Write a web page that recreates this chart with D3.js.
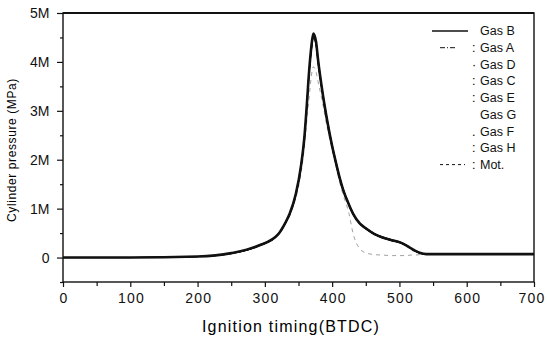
<!DOCTYPE html>
<html>
<head>
<meta charset="utf-8">
<script src="https://cdn.jsdelivr.net/npm/d3@7"></script>
<style>
  html, body { margin: 0; padding: 0; background: #fff; }
  svg { display: block; font-family: "Liberation Sans", Arial, sans-serif; }
</style>
</head>
<body>
<div id="chart"></div>
<script>
// crank angle grid shared by all curves
var angles = [0, 100, 200, 250, 290, 320, 330, 337, 346, 354, 359, 362, 366, 369, 372, 376, 379, 386, 392, 396, 400, 406, 411, 416, 425, 431, 441, 451, 463, 475, 490, 501, 510, 516, 523, 530, 540, 600, 700];

// cylinder pressure, MPa
var gasB = [0, 0, 0.02, 0.09, 0.24, 0.48, 0.7, 0.9, 1.3, 1.9, 2.5, 3.05, 3.85, 4.3, 4.58, 4.42, 4.05, 3.35, 2.85, 2.55, 2.28, 1.92, 1.64, 1.4, 1.08, 0.9, 0.7, 0.59, 0.48, 0.41, 0.35, 0.31, 0.25, 0.2, 0.14, 0.1, 0.07, 0.07, 0.07];
var gasA = [0, 0, 0.02, 0.09, 0.23, 0.47, 0.68, 0.88, 1.28, 1.87, 2.46, 3.0, 3.8, 4.23, 4.5, 4.36, 4.0, 3.32, 2.82, 2.52, 2.26, 1.9, 1.62, 1.39, 1.07, 0.89, 0.69, 0.58, 0.47, 0.4, 0.34, 0.3, 0.24, 0.19, 0.13, 0.09, 0.07, 0.07, 0.07];
var gasD = [0, 0, 0.02, 0.09, 0.24, 0.49, 0.71, 0.91, 1.32, 1.92, 2.52, 3.07, 3.87, 4.28, 4.55, 4.41, 4.06, 3.37, 2.87, 2.57, 2.3, 1.94, 1.66, 1.42, 1.09, 0.91, 0.71, 0.6, 0.49, 0.42, 0.36, 0.31, 0.25, 0.2, 0.14, 0.1, 0.07, 0.07, 0.07];
var gasC = [0, 0, 0.02, 0.08, 0.23, 0.47, 0.68, 0.88, 1.27, 1.86, 2.45, 2.99, 3.78, 4.21, 4.48, 4.34, 3.98, 3.31, 2.81, 2.51, 2.25, 1.89, 1.61, 1.38, 1.06, 0.88, 0.68, 0.57, 0.47, 0.4, 0.34, 0.3, 0.24, 0.19, 0.13, 0.09, 0.07, 0.07, 0.07];
var gasE = [0, 0, 0.02, 0.09, 0.25, 0.49, 0.71, 0.91, 1.31, 1.91, 2.51, 3.06, 3.86, 4.29, 4.56, 4.42, 4.07, 3.38, 2.88, 2.58, 2.31, 1.95, 1.66, 1.42, 1.1, 0.91, 0.71, 0.6, 0.49, 0.42, 0.36, 0.32, 0.26, 0.21, 0.14, 0.1, 0.07, 0.07, 0.07];
var gasG = [0, 0, 0.02, 0.09, 0.24, 0.48, 0.69, 0.89, 1.29, 1.88, 2.48, 3.02, 3.82, 4.25, 4.52, 4.38, 4.02, 3.33, 2.83, 2.53, 2.26, 1.9, 1.62, 1.39, 1.08, 0.9, 0.7, 0.59, 0.48, 0.41, 0.35, 0.31, 0.25, 0.2, 0.14, 0.1, 0.07, 0.07, 0.07];
var gasF = [0, 0, 0.02, 0.09, 0.24, 0.48, 0.7, 0.9, 1.3, 1.89, 2.49, 3.04, 3.84, 4.27, 4.54, 4.4, 4.04, 3.34, 2.84, 2.54, 2.27, 1.91, 1.63, 1.4, 1.09, 0.9, 0.7, 0.59, 0.48, 0.41, 0.35, 0.31, 0.25, 0.2, 0.14, 0.1, 0.07, 0.07, 0.07];
var gasH = [0, 0, 0.02, 0.08, 0.23, 0.47, 0.69, 0.89, 1.28, 1.88, 2.47, 3.01, 3.81, 4.24, 4.51, 4.37, 4.01, 3.33, 2.83, 2.53, 2.26, 1.9, 1.62, 1.39, 1.07, 0.89, 0.69, 0.58, 0.47, 0.4, 0.34, 0.3, 0.24, 0.19, 0.13, 0.09, 0.07, 0.07, 0.07];
var motored = [0, 0, 0.02, 0.08, 0.23, 0.46, 0.66, 0.85, 1.22, 1.75, 2.3, 2.75, 3.3, 3.7, 3.9, 3.8, 3.6, 3.15, 2.7, 2.45, 2.2, 1.85, 1.55, 1.3, 0.9, 0.5, 0.18, 0.09, 0.06, 0.05, 0.04, 0.04, 0.04, 0.05, 0.05, 0.06, 0.07, 0.07, 0.07];

var legendLabels = ["Gas B", "Gas A", "Gas D", "Gas C", "Gas E", "Gas G", "Gas F", "Gas H", "Mot."];
var legendColons = ["", ":", "\u00b7", ":", ":", "", ".", ":", ":"];
var xTicks = [0, 100, 200, 300, 400, 500, 600, 700];
var yTicks = [0, 1e6, 2e6, 3e6, 4e6, 5e6];
var yTickText = ["0", "1M", "2M", "3M", "4M", "5M"];

var series = [
  {name: "Gas B", values: gasB, width: 2.6, dash: null, color: "#111", sample: [432, 468]},
  {name: "Gas A", values: gasA, width: 1, dash: "5,2,1,2", color: "#111", sample: [440, 457]},
  {name: "Gas D", values: gasD, width: 1, dash: null, color: "#111", sample: null},
  {name: "Gas C", values: gasC, width: 1, dash: null, color: "#111", sample: null},
  {name: "Gas E", values: gasE, width: 1, dash: null, color: "#111", sample: null},
  {name: "Gas G", values: gasG, width: 1, dash: null, color: "#111", sample: null},
  {name: "Gas F", values: gasF, width: 1, dash: null, color: "#111", sample: null},
  {name: "Gas H", values: gasH, width: 1, dash: null, color: "#111", sample: null},
  {name: "Mot.", values: motored, width: 0.8, dash: "4,4", color: "#888", sample: [440, 465]}
];

var margin = {top: 13, right: 13, bottom: 59, left: 63},
    width = 547 - margin.left - margin.right,
    height = 341 - margin.top - margin.bottom;

var svg = d3.select("#chart")
  .append("svg")
  .attr("width", 547)
  .attr("height", 341)
  .append("g")
  .attr("transform", "translate(" + margin.left + "," + margin.top + ")");

var x = d3.scaleLinear().domain([0, 700]).range([0, width]);
var y = d3.scaleLinear().domain([-0.5e6, 5e6]).range([height, 0]);

// minor ticks first
svg.append("g")
  .attr("transform", "translate(0," + height + ")")
  .call(d3.axisBottom(x).tickValues(d3.range(50, 700, 100)).tickSize(4).tickFormat(""))
  .call(g => g.select(".domain").remove());
svg.append("g")
  .call(d3.axisLeft(y).tickValues([-0.5e6, 0.5e6, 1.5e6, 2.5e6, 3.5e6, 4.5e6]).tickSize(3).tickFormat(""))
  .call(g => g.select(".domain").remove());

var xAxis = svg.append("g")
  .attr("transform", "translate(0," + height + ")")
  .call(d3.axisBottom(x).tickValues(xTicks).tickSize(5).tickPadding(6));
xAxis.select(".domain").remove();
xAxis.selectAll("text")
  .style("font-size", "14px")
  .style("letter-spacing", "1.2px")
  .attr("dx", function(d) { return d == 700 ? "-2.5px" : "0.6px"; })
  .attr("fill", "#111");

var yAxis = svg.append("g")
  .call(d3.axisLeft(y).tickValues(yTicks).tickSize(6).tickPadding(7.5)
    .tickFormat(function(d, i) { return yTickText[i]; }));
yAxis.select(".domain").remove();
yAxis.selectAll("text").style("font-size", "14px").attr("fill", "#111");

svg.selectAll(".tick line").attr("stroke", "#111").attr("stroke-width", 1.2);

// frame
svg.append("rect")
  .attr("x", 0).attr("y", 0)
  .attr("width", width).attr("height", height)
  .attr("fill", "none")
  .attr("stroke", "#111")
  .attr("stroke-width", 1.4);
svg.append("line")
  .attr("x1", 0).attr("x2", width).attr("y1", 0).attr("y2", 0)
  .attr("stroke", "#111").attr("stroke-width", 2);

var line = d3.line()
  .x(function(d, i) { return x(angles[i]); })
  .y(function(d) { return y(d * 1e6); })
  .curve(d3.curveMonotoneX);

svg.append("g")
  .selectAll("path")
  .data(series.slice().reverse())
  .enter().append("path")
  .attr("d", function(d) { return line(d.values); })
  .attr("fill", "none")
  .attr("stroke", function(d) { return d.color; })
  .attr("stroke-width", function(d) { return d.width; })
  .attr("stroke-dasharray", function(d) { return d.dash; });

// legend
var legend = svg.append("g")
  .attr("transform", "translate(" + (-margin.left) + "," + (-margin.top) + ")");
var item = legend.selectAll("g")
  .data(series)
  .enter().append("g")
  .attr("transform", function(d, i) { return "translate(0," + (31 + i * 16.7) + ")"; });
item.filter(function(d) { return d.sample; })
  .append("line")
  .attr("x1", function(d) { return d.sample[0]; })
  .attr("x2", function(d) { return d.sample[1]; })
  .attr("stroke", "#111")
  .attr("stroke-width", function(d) { return d.name == "Gas B" ? 1.4 : 1; })
  .attr("stroke-dasharray", function(d) { return d.name == "Mot." ? "3,3" : d.dash; });
item.append("text")
  .attr("x", 472)
  .attr("dy", "0.35em")
  .style("font-size", "12.5px")
  .text(function(d, i) { return legendColons[i]; });
item.append("text")
  .attr("x", 480)
  .attr("dy", "0.35em")
  .style("font-size", "12.5px")
  .attr("fill", "#111")
  .text(function(d, i) { return legendLabels[i]; });

svg.append("text")
  .attr("transform", "rotate(-90)")
  .attr("x", -(150 - margin.top))
  .attr("y", 12 - margin.left)
  .attr("dy", "0.35em")
  .attr("text-anchor", "middle")
  .style("font-size", "12px")
  .style("letter-spacing", "0.6px")
  .text("Cylinder pressure (MPa)");

svg.append("text")
  .attr("x", 291 - margin.left)
  .attr("y", 332 - margin.top)
  .attr("text-anchor", "middle")
  .style("font-size", "16px")
  .style("letter-spacing", "1.2px")
  .text("Ignition timing(BTDC)");
</script>
</body>
</html>
